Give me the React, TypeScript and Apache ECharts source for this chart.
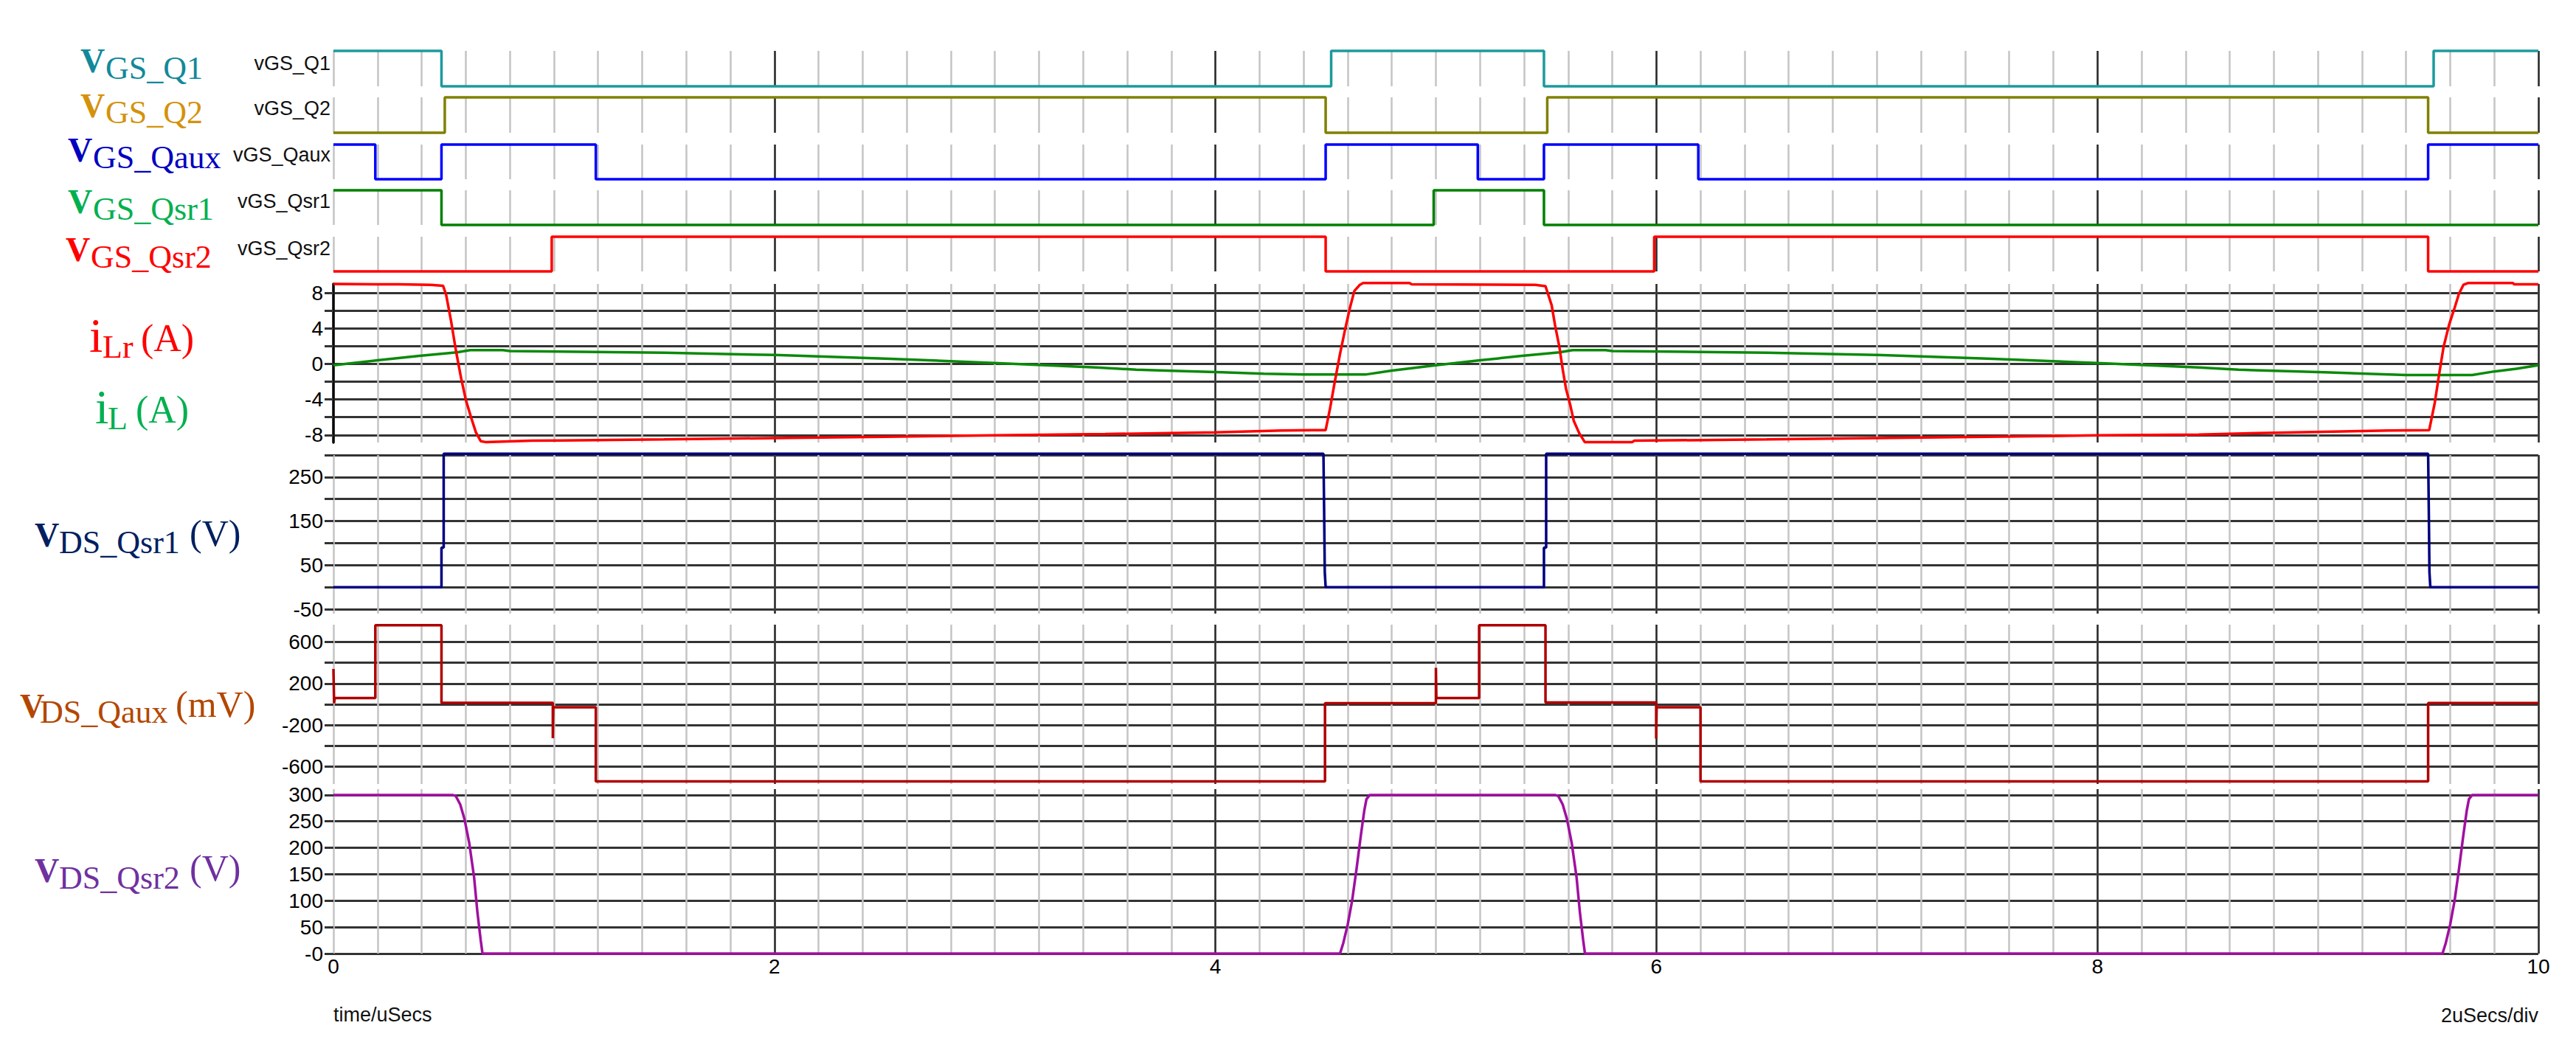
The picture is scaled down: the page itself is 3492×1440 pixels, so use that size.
import React, { useEffect, useRef } from 'react';
import * as echarts from 'echarts';

// ---------------- data (time in µs) ----------------
const timeLabels = [0, 2, 4, 6, 8, 10];

const vgsQ1 = [[0, 1], [0.49, 1], [0.49, 0], [4.525, 0], [4.525, 1], [5.49, 1], [5.49, 0], [9.525, 0], [9.525, 1], [10, 1]];
const vgsQ2 = [[0, 0], [0.505, 0], [0.505, 1], [4.5, 1], [4.5, 0], [5.505, 0], [5.505, 1], [9.5, 1], [9.5, 0], [10, 0]];
const vgsQaux = [[0, 1], [0.19, 1], [0.19, 0], [0.49, 0], [0.49, 1], [1.19, 1], [1.19, 0], [4.5, 0], [4.5, 1], [5.19, 1], [5.19, 0], [5.49, 0], [5.49, 1], [6.19, 1], [6.19, 0], [9.5, 0], [9.5, 1], [10, 1]];
const vgsQsr1 = [[0, 1], [0.49, 1], [0.49, 0], [4.99, 0], [4.99, 1], [5.49, 1], [5.49, 0], [10, 0]];
const vgsQsr2 = [[0, 0], [0.99, 0], [0.99, 1], [4.5, 1], [4.5, 0], [5.99, 0], [5.99, 1], [9.5, 1], [9.5, 0], [10, 0]];

const iLr = [[0, 9.0], [0.3, 8.95], [0.44, 8.9], [0.497, 8.8], [0.511, 7.8], [0.534, 4.75], [0.556, 1.43], [0.579, -1.6], [0.601, -4.1], [0.624, -6.0], [0.646, -7.7], [0.668, -8.7], [0.69, -8.8], [0.9, -8.65], [1.5, -8.5], [2.0, -8.35], [2.5, -8.2], [3.0, -8.05], [3.5, -7.9], [4.0, -7.7], [4.3, -7.5], [4.5, -7.45], [4.52, -5.0], [4.54, -2.2], [4.565, 1.1], [4.59, 4.1], [4.61, 6.3], [4.63, 8.2], [4.655, 8.9], [4.67, 9.1], [4.88, 9.1], [4.89, 8.95], [5.45, 8.9], [5.497, 8.75], [5.525, 6.6], [5.54, 4.4], [5.56, 1.9], [5.575, -0.6], [5.59, -2.8], [5.61, -4.7], [5.625, -6.4], [5.65, -7.8], [5.675, -8.8], [5.89, -8.8], [5.9, -8.65], [6.5, -8.5], [7.0, -8.35], [7.5, -8.2], [8.0, -8.05], [8.46, -7.95], [8.9, -7.7], [9.32, -7.5], [9.505, -7.45], [9.53, -4.4], [9.55, -1.15], [9.57, 1.9], [9.595, 4.4], [9.62, 6.3], [9.64, 7.9], [9.66, 8.9], [9.68, 9.1], [9.885, 9.1], [9.89, 8.95], [10, 8.95]];
const iL = [[0, -0.15], [0.2, 0.4], [0.39, 0.9], [0.56, 1.3], [0.62, 1.55], [0.77, 1.55], [0.8, 1.45], [1.5, 1.25], [2.0, 1.0], [2.5, 0.6], [3.0, 0.1], [3.46, -0.4], [3.64, -0.65], [3.83, -0.8], [4.03, -0.95], [4.22, -1.1], [4.4, -1.2], [4.68, -1.2], [4.8, -0.75], [5.0, -0.15], [5.2, 0.4], [5.39, 0.9], [5.56, 1.3], [5.62, 1.55], [5.77, 1.55], [5.8, 1.45], [6.5, 1.25], [7.0, 1.0], [7.5, 0.6], [8.0, 0.1], [8.46, -0.4], [8.64, -0.65], [8.83, -0.8], [9.03, -0.95], [9.22, -1.1], [9.4, -1.25], [9.7, -1.25], [9.8, -0.85], [9.9, -0.55], [10, -0.15]];

const vdsQsr1 = [[0, 0], [0.49, 0], [0.49, 90], [0.5, 90], [0.5, 303], [4.49, 303], [4.493, 176], [4.496, 34], [4.5, 0], [5.49, 0], [5.49, 90], [5.5, 90], [5.5, 303], [9.5, 303], [9.503, 176], [9.506, 34], [9.51, 0], [10, 0]];
const vdsQaux = [[0, 340], [0.003, 10], [0.006, 60], [0.19, 60], [0.19, 760], [0.49, 760], [0.49, 15], [0.995, 15], [0.995, -325], [0.997, -28], [1.19, -28], [1.19, -740], [4.497, -740], [4.497, 10], [5.0, 10], [5.0, 350], [5.002, 60], [5.196, 60], [5.196, 760], [5.497, 760], [5.497, 18], [5.999, 18], [5.999, -330], [6.001, -28], [6.2, -28], [6.2, -740], [9.5, -740], [9.5, 12], [10, 12]];
const vdsQsr2 = [[0, 300], [0.54, 300], [0.555, 298], [0.575, 282], [0.594, 255], [0.616, 209], [0.638, 144], [0.653, 78], [0.668, 25], [0.676, 0], [4.565, 0], [4.58, 20], [4.6, 55], [4.62, 100], [4.64, 160], [4.66, 225], [4.675, 270], [4.685, 292], [4.7, 300], [5.54, 300], [5.555, 298], [5.575, 282], [5.594, 255], [5.616, 209], [5.638, 144], [5.653, 78], [5.668, 25], [5.676, 0], [9.565, 0], [9.58, 20], [9.6, 55], [9.62, 100], [9.64, 160], [9.66, 225], [9.675, 270], [9.685, 292], [9.7, 300], [10, 300]];

const iLrTicks = [-8, -6, -4, -2, 0, 2, 4, 6, 8];
const iLrLabels = [-8, -4, 0, 4, 8];
const vdsQsr1Ticks = [-50, 0, 50, 100, 150, 200, 250, 300];
const vdsQsr1Labels = [-50, 50, 150, 250];
const vdsQauxTicks = [-600, -400, -200, 0, 200, 400, 600];
const vdsQauxLabels = [-600, -200, 200, 600];
const vdsQsr2Ticks = [0, 50, 100, 150, 200, 250, 300];

const SANS = '"Liberation Sans", Arial, sans-serif';
const SERIF = '"Liberation Serif", "Times New Roman", serif';

export default function App() {
  const ref = useRef<HTMLDivElement>(null);

  useEffect(() => {
    document.body.style.margin = '0';
    const chart = echarts.init(ref.current!, null, { renderer: 'svg' });

    const LEFT = 452;
    const RIGHT = 3492 - 3441;
    const panels = [
      { top: 69, height: 48 },
      { top: 132, height: 48 },
      { top: 196, height: 47 },
      { top: 258, height: 47 },
      { top: 321, height: 47 },
      { top: 385, height: 215 },
      { top: 617, height: 215 },
      { top: 847, height: 216 },
      { top: 1070, height: 223 },
    ];
    const grid = panels.map((p) => ({ left: LEFT, right: RIGHT, top: p.top, height: p.height, containLabel: false }));

    const xAxis: any[] = [];
    panels.forEach((_, i) => {
      xAxis.push({
        type: 'value', gridIndex: i, min: 0, max: 10, interval: 0.2, position: 'top',
        axisLine: { show: false }, axisTick: { show: false }, axisLabel: { show: false },
        splitLine: { show: true, lineStyle: { color: '#c4c4c4', width: 2.5 } },
      });
      xAxis.push({
        type: 'value', gridIndex: i, min: 0, max: 10, interval: 2, position: 'bottom',
        axisLine: { show: false }, axisTick: { show: false },
        axisLabel: i === panels.length - 1
          ? { show: true, fontSize: 28, color: '#000', fontFamily: SANS, margin: 3, showMinLabel: true, showMaxLabel: true, customValues: timeLabels }
          : { show: false },
        splitLine: { show: true, showMinLine: false, lineStyle: { color: '#2a2a2a', width: 2.5 } },
      });
    });

    const hLine = { color: '#333333', width: 3 };
    const yLabel = { fontSize: 28, color: '#000', fontFamily: SANS, margin: 14 };
    const digitalY = (i: number) => ({ type: 'value', gridIndex: i, min: 0, max: 1, show: false, splitLine: { show: false } });
    const yAxis: any[] = [
      digitalY(0), digitalY(1), digitalY(2), digitalY(3), digitalY(4),
      {
        type: 'value', gridIndex: 5, min: -8.85, max: 9,
        axisLine: { show: true, onZero: false, lineStyle: { color: '#000', width: 3.5 } },
        axisTick: { show: true, customValues: iLrTicks, length: 12, lineStyle: hLine },
        axisLabel: { ...yLabel, customValues: iLrLabels },
        splitLine: { show: true, lineStyle: hLine },
      },
      {
        type: 'value', gridIndex: 6, min: -60, max: 300,
        axisLine: { show: false },
        axisTick: { show: true, customValues: vdsQsr1Ticks, length: 12, lineStyle: hLine },
        axisLabel: { ...yLabel, customValues: vdsQsr1Labels },
        splitLine: { show: true, lineStyle: hLine },
      },
      {
        type: 'value', gridIndex: 7, min: -765, max: 765,
        axisLine: { show: false },
        axisTick: { show: true, customValues: vdsQauxTicks, length: 12, lineStyle: hLine },
        axisLabel: { ...yLabel, customValues: vdsQauxLabels },
        splitLine: { show: true, lineStyle: hLine },
      },
      {
        type: 'value', gridIndex: 8, min: 0, max: 311,
        axisLine: { show: false },
        axisTick: { show: true, customValues: vdsQsr2Ticks, length: 12, lineStyle: hLine },
        axisLabel: { ...yLabel, customValues: vdsQsr2Ticks, formatter: (v: number) => (v === 0 ? '-0' : String(v)) },
        splitLine: { show: true, lineStyle: hLine },
      },
    ];

    const mk = (name: string, data: number[][], idx: number, color: string) => ({
      name, type: 'line', data, xAxisIndex: idx * 2, yAxisIndex: idx,
      symbol: 'none', showSymbol: false, clip: false, z: 5, silent: true,
      lineStyle: { color, width: 3.5 }, itemStyle: { color },
    });

    const series = [
      mk('vGS_Q1', vgsQ1, 0, '#1c9a9c'),
      mk('vGS_Q2', vgsQ2, 1, '#808000'),
      mk('vGS_Qaux', vgsQaux, 2, '#0000ff'),
      mk('vGS_Qsr1', vgsQsr1, 3, '#008000'),
      mk('vGS_Qsr2', vgsQsr2, 4, '#ff0000'),
      mk('iL', iL, 5, '#0a8a0a'),
      mk('iLr', iLr, 5, '#ff0000'),
      mk('vDS_Qsr1', vdsQsr1, 6, '#000080'),
      mk('vDS_Qaux', vdsQaux, 7, '#b00000'),
      mk('vDS_Qsr2', vdsQsr2, 8, '#a010a0'),
    ];

    const t = (text: string, x: number, y: number, size: number, color: string, bold = false, family = SERIF, align = 'left') => ({
      type: 'text', x, y, silent: true, z: 10,
      style: { text, fill: color, fontSize: size, fontFamily: family, fontWeight: bold ? 'bold' : 'normal', align, verticalAlign: 'middle' },
    });

    const cQ1 = '#12899a', cQ2 = '#d4920c', cQaux = '#0000c0', cQsr1 = '#00b050', cQsr2 = '#ff0000';
    const cLr = '#ff0000', cL = '#00b050', cDs1 = '#002060', cDaux = '#b34700', cDs2 = '#7030a0';
    const graphic = [
      t('V', 109, 82, 46, cQ1, true), t('GS_Q1', 143, 92, 44, cQ1),
      t('V', 109, 143, 46, cQ2, true), t('GS_Q2', 143, 152, 44, cQ2),
      t('V', 92, 203, 46, cQaux, true), t('GS_Qaux', 126, 213, 44, cQaux),
      t('V', 92, 273, 46, cQsr1, true), t('GS_Qsr1', 126, 283, 44, cQsr1),
      t('V', 89, 338, 46, cQsr2, true), t('GS_Qsr2', 123, 348, 44, cQsr2),
      t('i', 121, 454, 66, cLr), t('Lr', 139, 470, 44, cLr), t('(A)', 191, 458, 52, cLr),
      t('i', 129, 551, 66, cL), t('L', 146, 567, 44, cL), t('(A)', 184, 555, 52, cL),
      t('V', 47, 725, 46, cDs1, true), t('DS_Qsr1', 80, 735, 44, cDs1), t('(V)', 257, 723, 50, cDs1),
      t('V', 27, 957, 46, cDaux, true), t('DS_Qaux', 54, 965, 44, cDaux), t('(mV)', 238, 955, 50, cDaux),
      t('V', 47, 1180, 46, cDs2, true), t('DS_Qsr2', 80, 1190, 44, cDs2), t('(V)', 257, 1177, 50, cDs2),
      t('vGS_Q1', 448, 86, 27, '#111', false, SANS, 'right'),
      t('vGS_Q2', 448, 147, 27, '#111', false, SANS, 'right'),
      t('vGS_Qaux', 448, 210, 27, '#111', false, SANS, 'right'),
      t('vGS_Qsr1', 448, 273, 27, '#111', false, SANS, 'right'),
      t('vGS_Qsr2', 448, 337, 27, '#111', false, SANS, 'right'),
      t('time/uSecs', 452, 1376, 27, '#111', false, SANS, 'left'),
      t('2uSecs/div', 3441, 1377, 27, '#111', false, SANS, 'right'),
    ];

    chart.setOption({
      animation: false,
      backgroundColor: '#ffffff',
      grid, xAxis, yAxis, series, graphic,
    });
    return () => chart.dispose();
  }, []);

  return <div ref={ref} style={{ width: 3492, height: 1440 }} />;
}
